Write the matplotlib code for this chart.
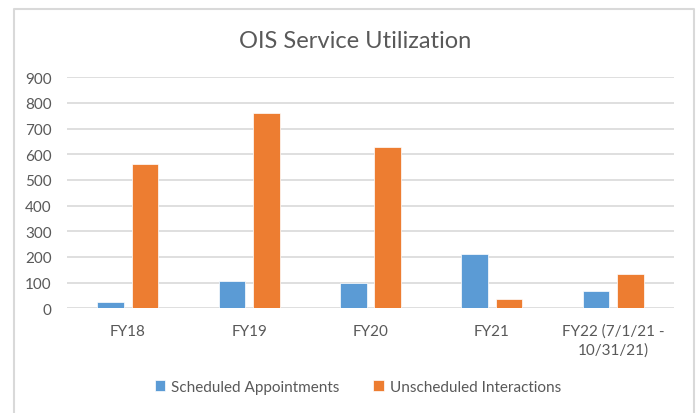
import matplotlib
matplotlib.use("Agg")
import matplotlib.pyplot as plt
import numpy as np
from matplotlib.lines import Line2D

categories = ["FY18", "FY19", "FY20", "FY21", "FY22 (7/1/21 -\n10/31/21)"]
scheduled = [24, 107, 100, 211, 67]
unscheduled = [562, 762, 628, 38, 133]
series_names = ["Scheduled Appointments", "Unscheduled Interactions"]
yticks = [0, 100, 200, 300, 400, 500, 600, 700, 800, 900]

plt.rcParams['font.family'] = ['Lato', 'DejaVu Sans']
blue = "#5B9BD5"
orange = "#ED7D31"
txt = "#595959"
grid = "#D9D9D9"

fig = plt.figure(figsize=(6.98, 4.14), dpi=100)
W, H = 698, 414

# outer chart border (left, top, right)
fig.add_artist(Line2D([14/W, 14/W, 694/W, 694/W], [0, 1-10/H, 1-10/H, 0],
                      transform=fig.transFigure, color=grid, lw=1.5))

ax = fig.add_axes([67/W, 1-309.3/H, (674-67)/W, (309.3-78.3)/H])
x = np.arange(len(categories))
w = 0.22
ax.bar(x - 0.142, scheduled, w, color=blue, edgecolor="white", linewidth=0.5, label=series_names[0], zorder=3)
ax.bar(x + 0.142, unscheduled, w, color=orange, edgecolor="white", linewidth=0.5, label=series_names[1], zorder=3)

ax.set_xlim(-0.5, len(categories) - 0.5)
ax.set_ylim(0, 900)
ax.set_yticks(yticks)
ax.set_xticks(x)
ax.set_xticklabels(categories, fontsize=11, color=txt, linespacing=1.35)
ax.tick_params(axis='y', labelsize=11, labelcolor=txt, length=0, pad=11)
ax.tick_params(axis='x', length=0, pad=11)
for s in ax.spines.values():
    s.set_visible(False)
ax.yaxis.grid(True, color=grid, lw=1.2, zorder=0)
ax.set_axisbelow(True)

fig.text(355/W, 1-42/H, "OIS Service Utilization", ha="center", va="center",
         fontsize=17, color=txt)

leg = fig.legend(loc="center", bbox_to_anchor=(358/W, 1-388/H), ncol=2, frameon=False,
                 fontsize=11, handlelength=0.7, handleheight=0.7, handletextpad=0.4,
                 columnspacing=2.2, labelcolor=txt)

fig.savefig("out.png", dpi=100)
